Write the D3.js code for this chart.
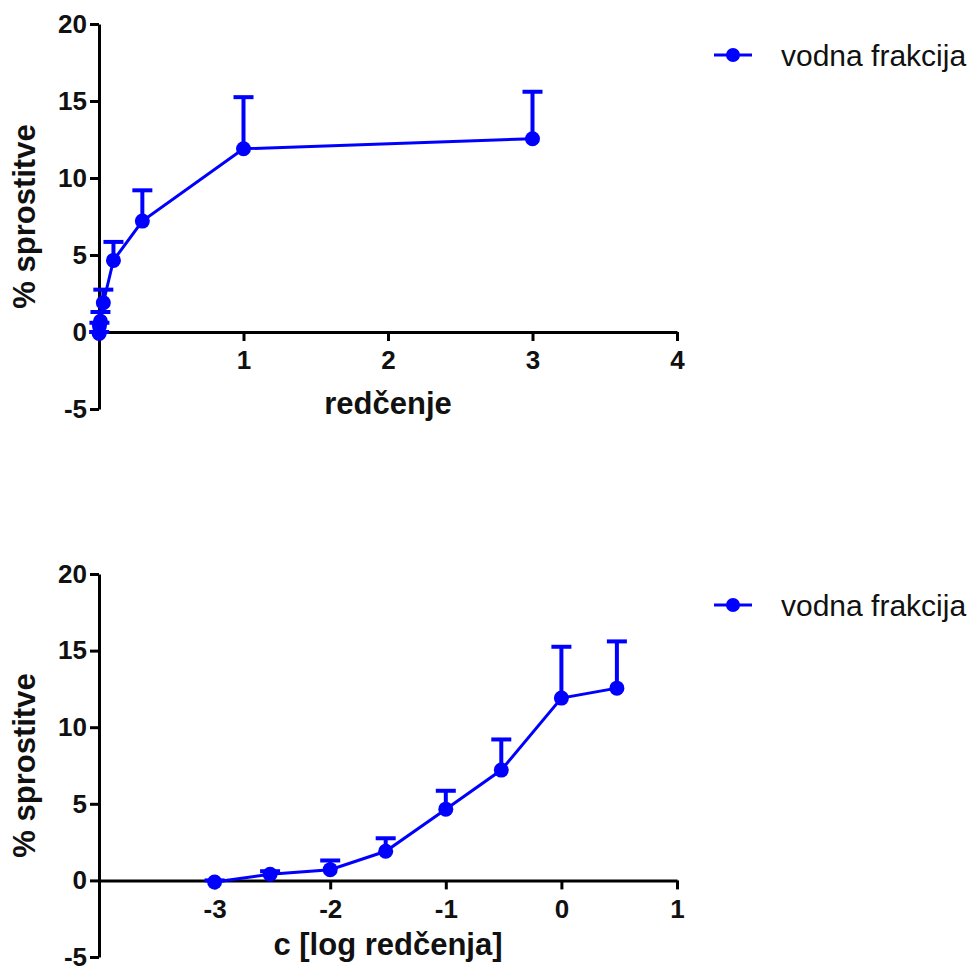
<!DOCTYPE html>
<html>
<head>
<meta charset="utf-8">
<script src="https://cdn.jsdelivr.net/npm/d3@7"></script>
<style>
  body { margin: 0; background: #fff; }
  text { font-family: Arial, "Liberation Sans", sans-serif; }
</style>
</head>
<body>
<div id="chart"></div>
<script>
// Data
var dilution = [0.001, 0.003, 0.01, 0.03, 0.1, 0.3, 1, 3];
var logDilution = [-3, -2.52, -2, -1.52, -1, -0.52, 0, 0.48];
var release = [-0.1, 0.4, 0.7, 1.9, 4.65, 7.2, 11.9, 12.55];
var releaseSd = [0.1, 0.2, 0.6, 0.85, 1.2, 2.0, 3.35, 3.05];
var yTicks = [-5, 0, 5, 10, 15, 20];
var xTicksTop = [1, 2, 3, 4];
var xTicksBottom = [-3, -2, -1, 0, 1];
var seriesName = 'vodna frakcija';
var yTitle = '% sprostitve';

var blue = '#0000ff';
var width = 979;
var height = 970;

var svg = d3.select('#chart').append('svg')
    .attr('width', width)
    .attr('height', height);

// Plain number labels with a hyphen minus
function plain(d) {
  return String(d);
}

// Style an axis group
function styleAxis(sel) {
  sel.select('.domain').attr('stroke', '#000').attr('stroke-width', 3);
  sel.selectAll('.tick line').attr('stroke', '#000').attr('stroke-width', 3);
  sel.selectAll('.tick text')
      .attr('font-size', 26).attr('font-weight', 'bold').attr('fill', '#111')
      .attr('font-family', 'Arial, "Liberation Sans", sans-serif');
}

// Draw one panel
function drawPanel(opts) {
  var x = d3.scaleLinear().domain(opts.xDomain).range([99, 677]);
  var y = d3.scaleLinear().domain([-5, 20]).range([opts.bottom, opts.top]);
  var g = svg.append('g');

  // Y axis
  var yAxis = d3.axisLeft(y).tickValues(yTicks).tickFormat(plain)
      .tickSize(9).tickPadding(3).tickSizeOuter(0);
  g.append('g').attr('transform', 'translate(' + x.range()[0] + ',0)').call(yAxis).call(styleAxis);

  // X axis on y = 0
  var xAxis = d3.axisBottom(x).tickValues(opts.xTicks).tickFormat(plain)
      .tickSize(9).tickPadding(10).tickSizeOuter(0);
  g.append('g').attr('transform', 'translate(0,' + y(0) + ')').call(xAxis).call(styleAxis);

  // Axis titles
  g.append('text')
      .attr('transform', 'translate(35,' + ((opts.top + opts.bottom) / 2) + ') rotate(-90)')
      .attr('text-anchor', 'middle')
      .attr('font-size', 31).attr('font-weight', 'bold').attr('fill', '#111')
      .text(yTitle);
  g.append('text')
      .attr('x', 388).attr('y', opts.xTitleY)
      .attr('text-anchor', 'middle')
      .attr('font-size', 31).attr('font-weight', 'bold').attr('fill', '#111')
      .text(opts.xTitle);

  var pts = opts.xs.map(function (d, i) {
    return { x: d, y: release[i], sd: releaseSd[i] };
  });

  // Line
  g.append('path')
      .datum(pts)
      .attr('fill', 'none')
      .attr('stroke', blue)
      .attr('stroke-width', 3)
      .attr('d', d3.line().x(function (d) { return x(d.x); }).y(function (d) { return y(d.y); }));

  // Error bars (upper only)
  var eb = g.append('g').attr('stroke', blue).attr('stroke-width', 4);
  eb.selectAll('.bar').data(pts).enter().append('line')
      .attr('x1', function (d) { return x(d.x); })
      .attr('x2', function (d) { return x(d.x); })
      .attr('y1', function (d) { return y(d.y); })
      .attr('y2', function (d) { return y(d.y + d.sd); });
  eb.selectAll('.cap').data(pts).enter().append('line')
      .attr('x1', function (d) { return x(d.x) - 10; })
      .attr('x2', function (d) { return x(d.x) + 10; })
      .attr('y1', function (d) { return y(d.y + d.sd); })
      .attr('y2', function (d) { return y(d.y + d.sd); });

  // Markers
  g.selectAll('.dot').data(pts).enter().append('circle')
      .attr('cx', function (d) { return x(d.x); })
      .attr('cy', function (d) { return y(d.y); })
      .attr('r', 7.5)
      .attr('fill', blue);

  // Legend
  var ly = opts.legendY;
  g.append('line')
      .attr('x1', 714).attr('x2', 752).attr('y1', ly).attr('y2', ly)
      .attr('stroke', blue).attr('stroke-width', 3);
  g.append('circle').attr('cx', 733).attr('cy', ly).attr('r', 7).attr('fill', blue);
  g.append('text')
      .attr('x', 781).attr('y', ly + 11)
      .attr('font-size', 30).attr('fill', '#111')
      .text(seriesName);
}

drawPanel({
  xDomain: [0, 4], xTicks: xTicksTop, xs: dilution,
  top: 24, bottom: 409, xTitle: 'redčenje', xTitleY: 414, legendY: 55
});

drawPanel({
  xDomain: [-4, 1], xTicks: xTicksBottom, xs: logDilution,
  top: 574, bottom: 957, xTitle: 'c [log redčenja]', xTitleY: 955, legendY: 605
});
</script>
</body>
</html>
